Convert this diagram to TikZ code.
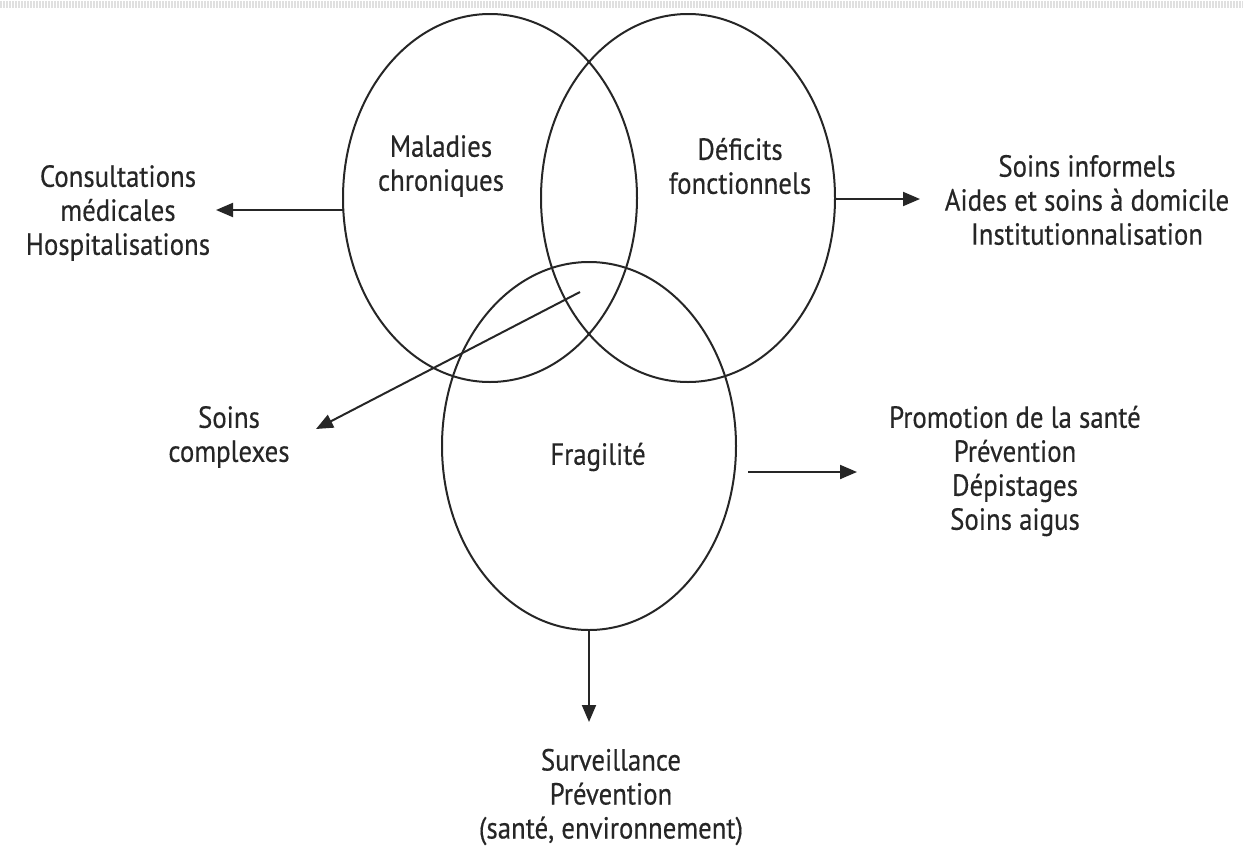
\documentclass[tikz,border=0pt]{standalone}
\usepackage{fontspec}
\setmainfont[FakeBold=0.4,FakeStretch=0.88]{PT Sans}
\usetikzlibrary{shapes.geometric,arrows.meta}
\definecolor{ink}{HTML}{262626}
\begin{document}
\begin{tikzpicture}[x=1pt,y=-1pt,
  circ/.style={draw=ink, line width=2pt, ellipse, minimum width=294pt, minimum height=368pt, inner sep=0pt},
  lbl/.style={text=ink, align=center, inner sep=0pt, font=\fontsize{30.5}{34}\selectfont},
  arr/.style={draw=ink, line width=2pt, -{Triangle[length=17pt,width=14pt]}}]
\useasboundingbox (0,0) rectangle (1243,849);
\draw[black!12, line width=7pt, dash pattern=on 1.5pt off 1.5pt] (0,4) -- (1243,4);
% ellipses
\node[circ] (mal) at (490,198) {};
\node[circ] (def) at (688,198) {};
\node[circ] (fra) at (589,446) {};
% inner labels
\node[lbl] (tmal) at (441,166) {Maladies\\chroniques};
\node[lbl] (tdef) at (740,166) {Déficits\\fonctionnels};
\node[lbl] (tfra) at (598,457) {Fragilité};
% outer labels
\node[lbl] (tcons) at (118,213) {Consultations\\médicales\\Hospitalisations};
\node[lbl] (tsoin) at (1087,200) {Soins informels\\Aides et soins à domicile\\Institutionnalisation};
\node[lbl] (tcomp) at (229,437) {Soins\\complexes};
\node[lbl] (tprom) at (1015,471) {Promotion de la santé\\Prévention\\Dépistages\\Soins aigus};
\node[lbl] (tsurv) at (611,797) {Surveillance\\Prévention\\(santé, environnement)};
% connector ends
\coordinate (a1s) at (343,210); \coordinate (a1e) at (216,210);
\coordinate (a2s) at (835,199); \coordinate (a2e) at (920,199);
\coordinate (a3s) at (580,292); \coordinate (a3e) at (316,429);
\coordinate (a4s) at (748,472); \coordinate (a4e) at (857,472);
\coordinate (a5s) at (589,630); \coordinate (a5e) at (589,722);
\draw[arr] (a1s) -- (a1e);
\draw[arr] (a2s) -- (a2e);
\draw[arr] (a3s) -- (a3e);
\draw[arr] (a4s) -- (a4e);
\draw[arr] (a5s) -- (a5e);
\end{tikzpicture}
\end{document}
